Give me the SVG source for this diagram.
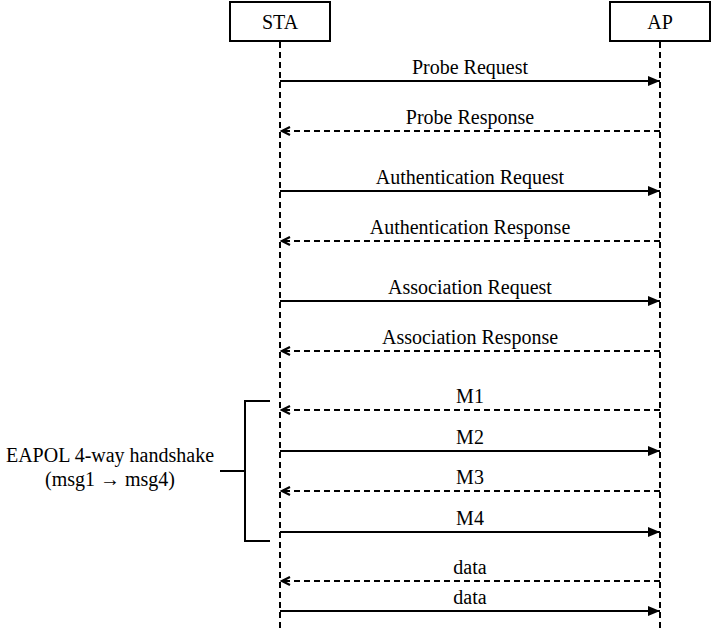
<svg xmlns="http://www.w3.org/2000/svg" width="711" height="632" viewBox="0 0 711 632">
<style>
text{font-family:"Liberation Serif","Times New Roman",serif;font-size:20px;fill:#000;text-anchor:middle}
.actor{fill:#fff;stroke:#000;stroke-width:2}
.life{stroke:#000;stroke-width:2;stroke-dasharray:6 4;fill:none}
.solid{stroke:#000;stroke-width:2;fill:none;marker-end:url(#fill)}
.dash{stroke:#000;stroke-width:2;stroke-dasharray:6 4;fill:none;marker-end:url(#open)}
.br{stroke:#000;stroke-width:2;fill:none}
</style>
<defs>
<marker id="fill" viewBox="0 0 12 10" refX="12" refY="5" markerWidth="12" markerHeight="10" markerUnits="userSpaceOnUse" orient="auto">
<path d="M0,0 L12,5 L0,10 z" fill="#000"/>
</marker>
<marker id="open" viewBox="0 0 12 12" refX="10" refY="6" markerWidth="12" markerHeight="12" markerUnits="userSpaceOnUse" orient="auto">
<path d="M2,2 L10,6 L2,10" fill="none" stroke="#000" stroke-width="2.2" stroke-dasharray="none"/>
</marker>
</defs>
<g id="lifelines">
<line class="life" x1="280" y1="42" x2="280" y2="632"/>
<line class="life" x1="660" y1="42" x2="660" y2="632"/>
</g>
<g id="STA">
<rect class="actor" x="230" y="2" width="100" height="39"/>
<text x="280" y="29">STA</text>
</g>
<g id="AP">
<rect class="actor" x="610" y="2" width="100" height="39"/>
<text x="660" y="29">AP</text>
</g>
<g id="connectors">
<path class="solid" d="M280,81 H660"/>
<path class="dash" d="M660,131 H282"/>
<path class="solid" d="M280,191 H660"/>
<path class="dash" d="M660,241 H282"/>
<path class="solid" d="M280,301 H660"/>
<path class="dash" d="M660,351 H282"/>
<path class="dash" d="M660,410 H282"/>
<path class="solid" d="M280,451 H660"/>
<path class="dash" d="M660,491 H282"/>
<path class="solid" d="M280,532 H660"/>
<path class="dash" d="M660,581 H282"/>
<path class="solid" d="M280,611 H660"/>
</g>
<g id="labels">
<text x="470" y="74">Probe Request</text>
<text x="470" y="124">Probe Response</text>
<text x="470" y="184">Authentication Request</text>
<text x="470" y="234">Authentication Response</text>
<text x="470" y="294">Association Request</text>
<text x="470" y="344">Association Response</text>
<text x="470" y="403">M1</text>
<text x="470" y="444">M2</text>
<text x="470" y="484">M3</text>
<text x="470" y="525">M4</text>
<text x="470" y="574">data</text>
<text x="470" y="604">data</text>
</g>
<g id="eapol">
<path class="br" d="M270,401 H245 V541 H270 M245,471 H220"/>
<text x="110" y="462">EAPOL 4-way handshake</text>
<text x="110" y="486">(msg1 → msg4)</text>
</g>
</svg>
